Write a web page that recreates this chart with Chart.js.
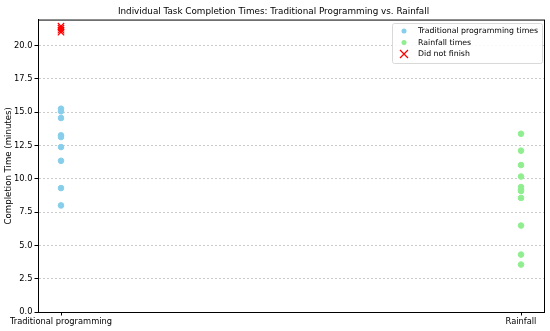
<!DOCTYPE html>
<html>
<head>
<meta charset="utf-8">
<script src="https://cdn.jsdelivr.net/npm/chart.js@4.4.1/dist/chart.umd.min.js"></script>
<style>
  body { margin: 0; background: #fff; }
</style>
</head>
<body>
<canvas id="myChart" width="550" height="331"></canvas>
<script>
// groups on the x axis
const categories = ['Traditional programming', 'Rainfall'];
// completion times in minutes
const traditionalTimes = [15.26, 15.06, 14.56, 13.26, 13.13, 12.38, 11.35, 9.30, 8.0];
const rainfallTimes = [13.38, 12.11, 11.03, 10.17, 9.38, 9.17, 9.08, 8.56, 6.49, 4.31, 3.56];
// did-not-finish marks, drawn above the 20 minute line
const didNotFinish = [21.45, 21.3, 21.15, 21.0];
const yTicks = [0, 2.5, 5, 7.5, 10, 12.5, 15, 17.5, 20];

const font = "'DejaVu Sans', sans-serif";

function toPoints(values, idx) {
    return values.map(v => ({ x: idx, y: v }));
}

// draws the frame round the plot and the legend box
const framePlugin = {
    id: 'frame',
    afterDraw(chart) {
        const ctx = chart.ctx;
        const a = chart.chartArea;
        ctx.save();
        ctx.strokeStyle = '#000';
        ctx.lineWidth = 1;
        ctx.strokeRect(a.left + 0.5, a.top + 0.5, a.right - a.left, a.bottom - a.top);

        // legend
        const bx = 392, by = 23, bw = 150, bh = 40;
        ctx.fillStyle = 'rgba(255,255,255,0.85)';
        ctx.strokeStyle = '#d9d9d9';
        ctx.beginPath();
        ctx.roundRect(bx + 0.5, by + 0.5, bw, bh, 2);
        ctx.fill();
        ctx.stroke();
        ctx.font = '7.8px ' + font;
        ctx.textBaseline = 'middle';
        chart.data.datasets.forEach((ds, i) => {
            const y = by + 8 + i * 11.5;
            const mx = bx + 12;
            if (ds.pointStyle === 'crossRot') {
                ctx.strokeStyle = ds.borderColor;
                ctx.lineWidth = 1.2;
                ctx.beginPath();
                ctx.moveTo(mx - 4, y - 4); ctx.lineTo(mx + 4, y + 4);
                ctx.moveTo(mx + 4, y - 4); ctx.lineTo(mx - 4, y + 4);
                ctx.stroke();
            } else {
                ctx.fillStyle = ds.backgroundColor;
                ctx.beginPath();
                ctx.arc(mx, y, 2.5, 0, Math.PI * 2);
                ctx.fill();
            }
            ctx.fillStyle = '#000';
            ctx.fillText(ds.label, bx + 26, y);
        });
        ctx.restore();
    }
};

let ctx = document.getElementById('myChart').getContext('2d');
let chart = new Chart(ctx, {
    type: 'scatter',
    data: {
        datasets: [{
            label: 'Traditional programming times',
            data: toPoints(traditionalTimes, 0),
            backgroundColor: '#87ceeb',
            borderColor: '#87ceeb',
            pointRadius: 2.8,
            pointStyle: 'circle'
        }, {
            label: 'Rainfall times',
            data: toPoints(rainfallTimes, 1),
            backgroundColor: '#90ee90',
            borderColor: '#90ee90',
            pointRadius: 2.8,
            pointStyle: 'circle'
        }, {
            label: 'Did not finish',
            data: toPoints(didNotFinish, 0),
            backgroundColor: '#ff0000',
            borderColor: '#ff0000',
            borderWidth: 1.2,
            pointRadius: 4.5,
            pointStyle: 'crossRot'
        }]
    },
    options: {
        responsive: false,
        animation: false,
        devicePixelRatio: 1,
        layout: { padding: { left: 3, right: 6, top: 0, bottom: 0 } },
        plugins: {
            legend: { display: false },
            tooltip: { enabled: false },
            title: {
                display: true,
                text: 'Individual Task Completion Times: Traditional Programming vs. Rainfall',
                color: '#000',
                font: { family: font, size: 8.8, weight: 'normal' },
                padding: { top: 6, bottom: 3 }
            }
        },
        scales: {
            x: {
                type: 'linear',
                min: -0.05,
                max: 1.05,
                afterBuildTicks: axis => { axis.ticks = categories.map((c, i) => ({ value: i })); },
                afterFit: scale => { scale.height = 19; },
                ticks: {
                    color: '#000',
                    font: { family: font, size: 8.3 },
                    padding: 1,
                    maxRotation: 0,
                    callback: v => categories[v]
                },
                grid: { drawOnChartArea: false, drawTicks: true, tickLength: 3.5, color: '#000' },
                border: { display: true, color: '#000' }
            },
            y: {
                min: 0,
                max: 21.95,
                afterBuildTicks: axis => { axis.ticks = yTicks.map(v => ({ value: v })); },
                afterFit: scale => { scale.width = 35; },
                ticks: {
                    color: '#000',
                    font: { family: font, size: 8.3 },
                    padding: 2,
                    callback: v => v.toFixed(1)
                },
                title: {
                    display: true,
                    text: 'Completion Time (minutes)',
                    color: '#000',
                    font: { family: font, size: 8.6 },
                    padding: 1
                },
                grid: {
                    color: '#cccccc',
                    tickColor: '#000',
                    tickLength: 3.5,
                    tickBorderDash: []
                },
                border: { display: true, color: '#000', dash: [2, 2] }
            }
        }
    },
    plugins: [framePlugin]
});
</script>
</body>
</html>
